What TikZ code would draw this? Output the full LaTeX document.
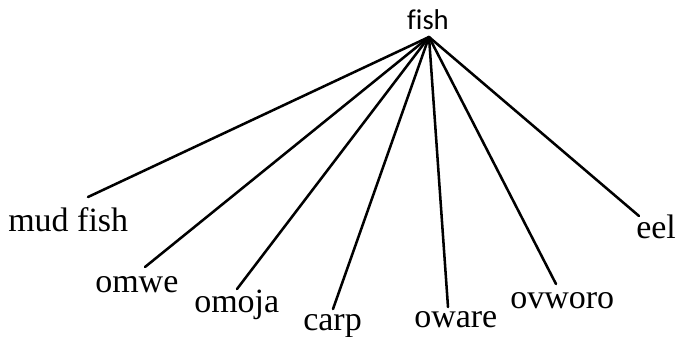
\documentclass[tikz,border=0pt]{standalone}
\usepackage{fontspec}
\setmainfont{Liberation Serif}
\newfontfamily\rootfont[Ligatures=NoCommon]{Carlito}
\begin{document}
\begin{tikzpicture}[x=0.75pt,y=-0.75pt,
  leaf/.style={anchor=base west,inner sep=0pt,font=\fontsize{25.5}{30}\selectfont},
  rootlabel/.style={anchor=base,inner sep=0pt,font=\rootfont\fontsize{21.5}{25}\selectfont},
  branch/.style={line width=1.9pt,line cap=round}]
\useasboundingbox (0,0) rectangle (677,336);
% root label and the point where all branches meet
\node[rootlabel] (fish) at (428,29) {fish};
\coordinate (hub) at (429,37);
% leaf labels
\node[leaf] (mudfish) at (8,231) {mud fish};
\node[leaf] (omwe) at (95,292) {omwe};
\node[leaf] (omoja) at (194,312) {omoja};
\node[leaf] (carp) at (303,330) {carp};
\node[leaf] (oware) at (414,327) {oware};
\node[leaf] (ovworo) at (510,308) {ovworo};
\node[leaf] (eel) at (636,238) {eel};
% lower ends of the branches
\coordinate (mudfishEnd) at (88,197);
\coordinate (omweEnd) at (145,267);
\coordinate (omojaEnd) at (237,289);
\coordinate (carpEnd) at (333,309);
\coordinate (owareEnd) at (448,307);
\coordinate (ovworoEnd) at (556,284);
\coordinate (eelEnd) at (639,216);
\foreach \e in {mudfishEnd,omweEnd,omojaEnd,carpEnd,owareEnd,ovworoEnd,eelEnd}
  \draw[branch] (hub) -- (\e);
\end{tikzpicture}
\end{document}
